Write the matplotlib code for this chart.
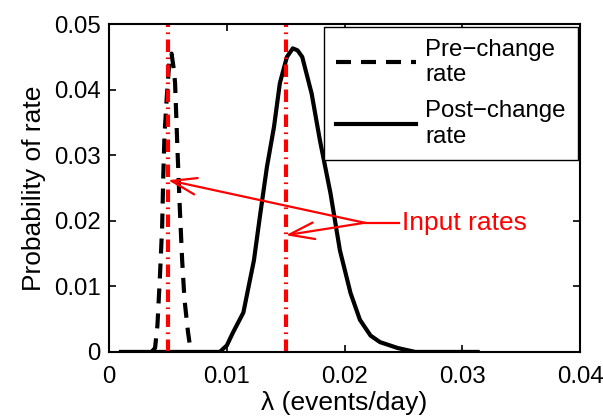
import matplotlib
matplotlib.use("Agg")
import matplotlib.pyplot as plt

plt.rcParams['font.family'] = ['Liberation Sans', 'DejaVu Sans']

# Data
lam_pre = [0.0036, 0.0039, 0.0041, 0.0043, 0.0045, 0.0046, 0.0047, 0.0049, 0.0051,
           0.0053, 0.0055, 0.0056, 0.0057, 0.0058, 0.0060, 0.0062, 0.0064, 0.0067, 0.0069]
p_pre = [0, 0.0006, 0.004, 0.011, 0.019, 0.027, 0.033, 0.039, 0.044,
         0.0455, 0.043, 0.041, 0.036, 0.031, 0.022, 0.014, 0.008, 0.003, 0.0005]

lam_post = [0.0010, 0.0050, 0.0094, 0.0100, 0.0105, 0.0114, 0.0123, 0.0128, 0.0134,
            0.0140, 0.0145, 0.0151, 0.0156, 0.0160, 0.0164, 0.0172, 0.0179, 0.0188,
            0.0196, 0.0205, 0.0213, 0.0222, 0.0230, 0.0245, 0.0260, 0.0313]
p_post = [0, 0, 0, 0.0010, 0.0029, 0.006, 0.014, 0.0206, 0.0282,
          0.0343, 0.041, 0.045, 0.0463, 0.0460, 0.045, 0.0394, 0.0323, 0.0242,
          0.0155, 0.009, 0.0049, 0.0025, 0.0015, 0.0006, 0, 0]

input_rates = [0.005, 0.015]
arrow_targets_y = [0.0262, 0.0178]
annot_text = "Input rates"
annot_xy = (0.0249, 0.0197)
junction = (0.0217, 0.0197)

xticks = [0, 0.01, 0.02, 0.03, 0.04]
yticks = [0, 0.01, 0.02, 0.03, 0.04, 0.05]

fig = plt.figure(figsize=(6.03, 4.16), dpi=100)
ax = fig.add_axes([0.181, 0.154, 0.781, 0.788])

ax.plot(lam_pre, p_pre, color='black', lw=3, ls=(0, (3.6, 2.4)), label='Pre\u2212change\nrate')
ax.plot(lam_post, p_post, color='black', lw=3, label='Post\u2212change\nrate')

for r in input_rates:
    ax.axvline(r, color='red', lw=3, ls=(0, (3, 1.3, 0.4, 1.3)))

ax.set_xlim(0, 0.04)
ax.set_ylim(0, 0.05)
ax.set_xticks(xticks)
ax.set_xticklabels(['0', '0.01', '0.02', '0.03', '0.04'])
ax.set_yticks(yticks)
ax.set_yticklabels(['0', '0.01', '0.02', '0.03', '0.04', '0.05'])
ax.tick_params(direction='in', top=True, right=True, length=5, width=1.2,
               labelsize=17.3)
ax.tick_params(axis='x', pad=10)
ax.tick_params(axis='y', pad=6)
for s in ax.spines.values():
    s.set_linewidth(1.5)

ax.set_xlabel('\u03bb (events/day)', fontsize=19, labelpad=2)
ax.set_ylabel('Probability of rate', fontsize=19, labelpad=6)

# annotation
ax.text(annot_xy[0], annot_xy[1], annot_text, color='red', fontsize=19,
        ha='left', va='center')
ax.plot([junction[0], annot_xy[0] - 0.0003], [junction[1], junction[1]], color='red', lw=1.6)
for r, ty in zip(input_rates, arrow_targets_y):
    ax.annotate('', xy=(r, ty), xytext=junction,
                arrowprops=dict(arrowstyle='->,head_length=0.6,head_width=0.2',
                                color='red', lw=1.6, mutation_scale=30,
                                shrinkA=0, shrinkB=0))

leg = ax.legend(loc='upper right', fontsize=17.3, handlelength=3.3,
                frameon=True, fancybox=False, borderaxespad=0.1,
                edgecolor='black', framealpha=1, labelspacing=0.6,
                handletextpad=0.4, borderpad=0.5)
leg.get_frame().set_linewidth(1.0)

fig.savefig('out.png', dpi=100)
